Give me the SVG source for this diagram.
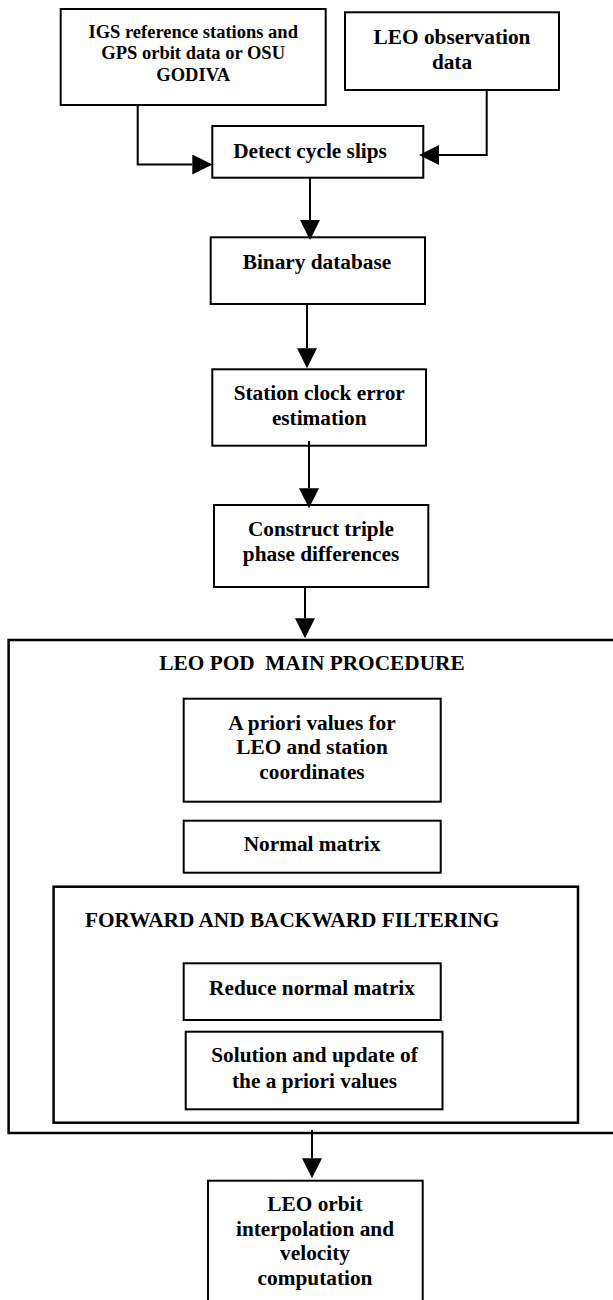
<svg xmlns="http://www.w3.org/2000/svg" width="613" height="1300" viewBox="0 0 613 1300">
<defs>
<style>
.box{fill:#fff;stroke:#000;stroke-width:2}
.cont{fill:none;stroke:#000;stroke-width:2.5}
.t{font-family:"Liberation Serif","Times New Roman",serif;font-weight:bold;font-size:21.3px;fill:#000;text-anchor:middle}
.s{font-size:18.5px}
.l{text-anchor:start}
.c{fill:none;stroke:#000;stroke-width:2}
</style>
<marker id="ah" markerUnits="userSpaceOnUse" markerWidth="20" markerHeight="20" refX="0" refY="10" orient="auto">
<path d="M0,0 L20,10 L0,20 z" fill="#000"/>
</marker>
</defs>
<rect width="613" height="1300" fill="#fff"/>

<g id="main-procedure">
<rect class="cont" x="8.6" y="640" width="620" height="493"/>
<text class="t" x="312" y="670.3" style="white-space:pre">LEO POD  MAIN PROCEDURE</text>
</g>

<g id="forward-backward">
<rect class="cont" x="53.6" y="886.7" width="524.4" height="236"/>
<text class="t l" x="85" y="927">FORWARD AND BACKWARD FILTERING</text>
</g>

<g id="igs">
<rect class="box" x="60.7" y="9" width="265" height="96"/>
<text class="t s" x="193.2" y="37.7">IGS reference stations and</text>
<text class="t s" x="193.2" y="59.3">GPS orbit data or OSU</text>
<text class="t s" x="193.2" y="81">GODIVA</text>
</g>

<g id="leo-obs">
<rect class="box" x="345" y="12.3" width="214" height="77.7"/>
<text class="t" x="452" y="43.7">LEO observation</text>
<text class="t" x="452" y="68.7">data</text>
</g>

<g id="detect">
<rect class="box" x="212.3" y="126" width="211" height="51.7"/>
<text class="t" x="310" y="158">Detect cycle slips</text>
</g>

<g id="binary">
<rect class="box" x="210.7" y="237.3" width="214.3" height="66.7"/>
<text class="t" x="317" y="268.7">Binary database</text>
</g>

<g id="station">
<rect class="box" x="212.3" y="369.3" width="213.7" height="76.4"/>
<text class="t" x="319.2" y="400.3">Station clock error</text>
<text class="t" x="319.2" y="425.3">estimation</text>
</g>

<g id="construct">
<rect class="box" x="214" y="505" width="214.3" height="82"/>
<text class="t" x="321" y="536.3">Construct triple</text>
<text class="t" x="321" y="561">phase differences</text>
</g>

<g id="apriori">
<rect class="box" x="183.7" y="698.7" width="257" height="103"/>
<text class="t" x="312" y="729.7">A priori values for</text>
<text class="t" x="312" y="753.7">LEO and station</text>
<text class="t" x="312" y="778.7">coordinates</text>
</g>

<g id="normal">
<rect class="box" x="183.7" y="820.7" width="257" height="52"/>
<text class="t" x="312" y="851">Normal matrix</text>
</g>

<g id="reduce">
<rect class="box" x="183.7" y="963.3" width="257" height="56.7"/>
<text class="t" x="312" y="995.3">Reduce normal matrix</text>
</g>

<g id="solution">
<rect class="box" x="185.7" y="1031.7" width="256.8" height="77.6"/>
<text class="t" x="314.5" y="1062">Solution and update of</text>
<text class="t" x="314.5" y="1087.7">the a priori values</text>
</g>

<g id="leo-orbit">
<rect class="box" x="208" y="1180.7" width="214.7" height="135"/>
<text class="t" x="315" y="1211">LEO orbit</text>
<text class="t" x="315" y="1236.3">interpolation and</text>
<text class="t" x="315" y="1260.3">velocity</text>
<text class="t" x="315" y="1285.3">computation</text>
</g>

<g id="connectors">
<polyline class="c" points="137.7,105 137.7,164.5 192.3,164.5" marker-end="url(#ah)"/>
<polyline class="c" points="486.7,90 486.7,155 439,155" marker-end="url(#ah)"/>
<line class="c" x1="310" y1="177.7" x2="310" y2="220" marker-end="url(#ah)"/>
<line class="c" x1="307" y1="304" x2="307" y2="348.3" marker-end="url(#ah)"/>
<line class="c" x1="309" y1="441" x2="309" y2="488.3" marker-end="url(#ah)"/>
<line class="c" x1="305" y1="587" x2="305" y2="618.3" marker-end="url(#ah)"/>
<line class="c" x1="312" y1="1130" x2="312" y2="1158.3" marker-end="url(#ah)"/>
</g>
</svg>
